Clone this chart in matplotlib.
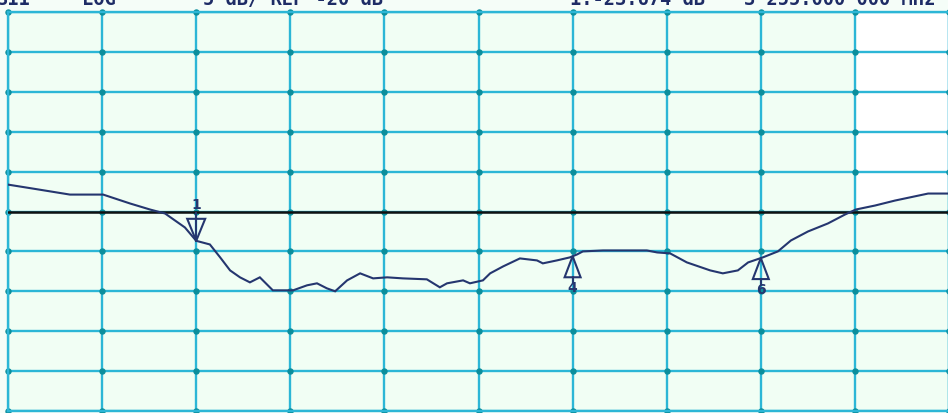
import numpy as np
import matplotlib
matplotlib.use("Agg")
import matplotlib.pyplot as plt
from matplotlib.patches import Polygon

# Analyzer trace: S11 log magnitude
freq_mhz = [3200.0, 3207.3, 3218.1, 3227.8, 3235.7, 3241.5, 3245.9, 3251.7, 3255.0,
            3259.0, 3262.0, 3264.9, 3267.8, 3270.7, 3273.6, 3277.4, 3283.3, 3287.4,
            3290.3, 3293.2, 3295.6, 3299.1, 3302.9, 3306.7, 3310.8, 3315.4, 3322.4,
            3326.2, 3328.3, 3333.0, 3335.0, 3338.8, 3340.9, 3344.7, 3349.6, 3354.6,
            3356.3, 3360.4, 3364.2, 3366.3, 3368.0, 3373.9, 3386.7, 3389.7, 3393.5,
            3398.4, 3405.2, 3408.9, 3413.3, 3416.3, 3420.6, 3425.0, 3428.8, 3433.8,
            3439.6, 3444.6, 3447.8, 3453.4, 3459.2, 3468.9, 3475.0]
s11_db = [-16.63, -17.13, -17.88, -17.88, -19.00, -19.75, -20.25, -22.00, -23.674,
          -24.13, -25.75, -27.38, -28.25, -28.88, -28.25, -29.88, -29.88, -29.25,
          -29.00, -29.63, -30.00, -28.63, -27.75, -28.38, -28.25, -28.38, -28.50,
          -29.50, -29.00, -28.63, -29.00, -28.63, -27.75, -26.88, -25.88, -26.13,
          -26.50, -26.13, -25.75, -25.38, -25.00, -24.88, -24.88, -25.13, -25.25,
          -26.38, -27.38, -27.75, -27.38, -26.38, -25.75, -25.00, -23.63, -22.50,
          -21.50, -20.38, -19.75, -19.25, -18.63, -17.75, -17.75]

# Markers: (label, frequency in MHz, pointer direction)
marker_ids = ["1", "4", "6"]
marker_freqs = [3255.0, 3365.0, 3420.0]
marker_down = [True, False, False]

# Display settings
start_mhz, stop_mhz = 3200.0, 3475.0
ref_db, db_per_div = -20.0, 5.0
n_div = 10

header_texts = ["S11", "LOG", "5 dB/ REF -20 dB", "1:-23.674 dB", "3 255.000 000 MHz"]
header_x_px = [-3, 82, 203, 570, 744]

W, H = 948, 413
fig = plt.figure(figsize=(W / 100, H / 100), dpi=100)
fig.patch.set_facecolor("#f5fdf8")

ax = fig.add_axes([8 / W, 2 / H, 941 / W, 399 / H])
bg = "#f1fef4"
grid_c = "#2cb6d6"
dot_c = "#0c8e9c"
trace_c = "#25366f"
ax.set_facecolor(bg)

top_db = ref_db + db_per_div * n_div / 2
bot_db = ref_db - db_per_div * n_div / 2
ax.set_xlim(start_mhz, stop_mhz)
ax.set_ylim(bot_db, top_db)

xs = np.linspace(start_mhz, stop_mhz, n_div + 1)
ys = np.linspace(bot_db, top_db, n_div + 1)
ax.set_xticks(xs)
ax.set_yticks(ys)
ax.tick_params(left=False, bottom=False, labelleft=False, labelbottom=False)
ax.grid(True, color=grid_c, lw=1.7, zorder=1)
ax.set_axisbelow(True)
for s in ax.spines.values():
    s.set_color(grid_c)
    s.set_linewidth(1.7)

# paler screen area in the last column above the trace
f_arr = np.array(freq_mhz)
s_arr = np.array(s11_db)
sel = f_arr >= xs[-2]
ax.fill_between(f_arr[sel], s_arr[sel], top_db, color="white", lw=0, zorder=0.5)

# graticule intersection dots
gx, gy = np.meshgrid(xs, ys)
ax.plot(gx.ravel(), gy.ravel(), ls="none", marker="o", ms=3.6,
        color=dot_c, zorder=2, clip_on=False)

# reference line
ax.axhline(ref_db, color="#111111", lw=1.8, zorder=3)

# trace
ax.plot(freq_mhz, s11_db, color=trace_c, lw=1.5, zorder=4,
        solid_joinstyle="miter")

# pixel -> data scale for marker symbols
px_x = (stop_mhz - start_mhz) / 941
px_y = (top_db - bot_db) / 399

for mid, mf, down in zip(marker_ids, marker_freqs, marker_down):
    mv = float(np.interp(mf, freq_mhz, s11_db))
    if down:
        tip = (mf, mv)
        base_y = mv + 22 * px_y
        tri = [(mf - 9 * px_x, base_y), (mf + 9 * px_x, base_y), tip]
        ax.add_patch(Polygon(tri, closed=True, fill=False, ec=trace_c,
                             lw=1.5, zorder=5))
        ax.plot([mf, mf], [mv, base_y + 6 * px_y], color=trace_c, lw=1.4, zorder=5)
        ax.text(mf, base_y + 7 * px_y, mid, ha="center", va="bottom",
                color=trace_c, fontsize=10, fontweight="bold", zorder=6,
                family="DejaVu Sans")
    else:
        tip = (mf, mv)
        base_y = mv - 21 * px_y
        tri = [(mf - 8 * px_x, base_y), (mf + 8 * px_x, base_y), tip]
        ax.add_patch(Polygon(tri, closed=True, fill=False, ec=trace_c,
                             lw=1.5, zorder=5))
        ax.plot([mf, mf], [base_y, base_y - 5 * px_y], color=trace_c, lw=1.4, zorder=5)
        ax.text(mf, base_y - 4 * px_y, mid, ha="center", va="top",
                color=trace_c, fontsize=10, fontweight="bold", zorder=6,
                family="DejaVu Sans")

# header line (partly above the top edge)
for txt, xp in zip(header_texts, header_x_px):
    fig.text(xp / W, (H - 5) / H, txt, ha="left", va="baseline",
             color="#1e2c66", fontsize=13.5, fontweight="bold",
             family="DejaVu Sans Mono")

fig.savefig("out.png", dpi=100, facecolor=fig.get_facecolor())
